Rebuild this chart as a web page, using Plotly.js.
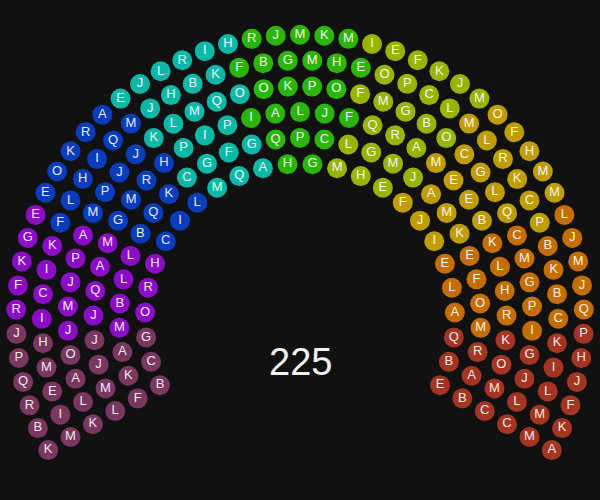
<!DOCTYPE html>
<html>
<head>
<meta charset="utf-8">
<script src="https://cdn.plot.ly/plotly-3.0.1.min.js"></script>
<style>html,body{margin:0;padding:0;background:#111111;}</style>
</head>
<body>
<div id="chart" style="width:600px;height:500px;"></div>
<script>
// Parties (9 groups of equal size), in seat order from left to right
const partySeats = [25, 25, 25, 25, 25, 25, 25, 25, 25];
const partyColors = ['#7a375f', '#8b0ec6', '#0a3cbe', '#0bb8a8', '#2bb50b', '#97b500', '#bf9d00', '#c46e00', '#a33522'];

// Seat labels, one string per row (inner row first), read left to right
const rowLetters = [
  'BCGORHCILMQAHGMHEFJIELAQBE',
  'FKAMBLLBQKCGFGQPCLGMJAMKEFOMRAB',
  'LMJJJQAMGMRHPIPIALJFQRAMEEBKLHRKOMC',
  'KLAOJMJPAMPJJKLMQOOKPOFMGBOCGLQCMGPIGJLC',
  'MIEMHICIKFLHIQMJHBKFBGMHEOPCLMLRKCPBKBCKILMM',
  'KBRQPJRFKGEEOKRAEJLRIHRJMKMIEFKJMOFHMMLJMJQPHJFKA'
];

// Layout geometry
const innerR = 155, rowGap = 25.8, startDeg = 210, spanDeg = 240;

const seats = [];
rowLetters.forEach((s, i) => {
  const n = s.length, r = innerR + i * rowGap;
  for (let j = 0; j < n; j++) {
    const p = (j + 0.5) / n;
    const th = (startDeg - p * spanDeg) * Math.PI / 180;
    seats.push({p: p, row: i, x: r * Math.cos(th), y: r * Math.sin(th), letter: s[j]});
  }
});
seats.sort((a, b) => (a.p - b.p) || (a.row - b.row));

const traces = [];
let k = 0;
partySeats.forEach((cnt, pi) => {
  const part = seats.slice(k, k + cnt);
  k += cnt;
  traces.push({
    type: 'scatter',
    mode: 'markers+text',
    x: part.map(s => s.x),
    y: part.map(s => s.y),
    text: part.map(s => s.letter),
    textposition: 'middle center',
    textfont: {family: 'Liberation Sans, Arial, sans-serif', size: 13, color: 'rgba(255,255,255,0.92)'},
    marker: {size: 20, color: partyColors[pi], line: {width: 0}},
    hoverinfo: 'skip',
    showlegend: false,
    cliponaxis: false
  });
});

const total = partySeats.reduce((a, b) => a + b, 0);

const layout = {
  width: 600, height: 500,
  margin: {l: 0, r: 0, t: 0, b: 0},
  paper_bgcolor: '#111111',
  plot_bgcolor: '#111111',
  xaxis: {range: [-300, 300], visible: false, fixedrange: true},
  yaxis: {range: [-181.3, 318.7], visible: false, fixedrange: true},
  showlegend: false,
  annotations: [{
    x: 0, y: -43, xref: 'x', yref: 'y',
    text: String(total), showarrow: false,
    font: {family: 'Liberation Sans, Arial, sans-serif', size: 38, color: '#f2f2f2'},
    xanchor: 'center', yanchor: 'middle'
  }]
};

Plotly.newPlot('chart', traces, layout, {displayModeBar: false, staticPlot: true});
</script>
</body>
</html>
